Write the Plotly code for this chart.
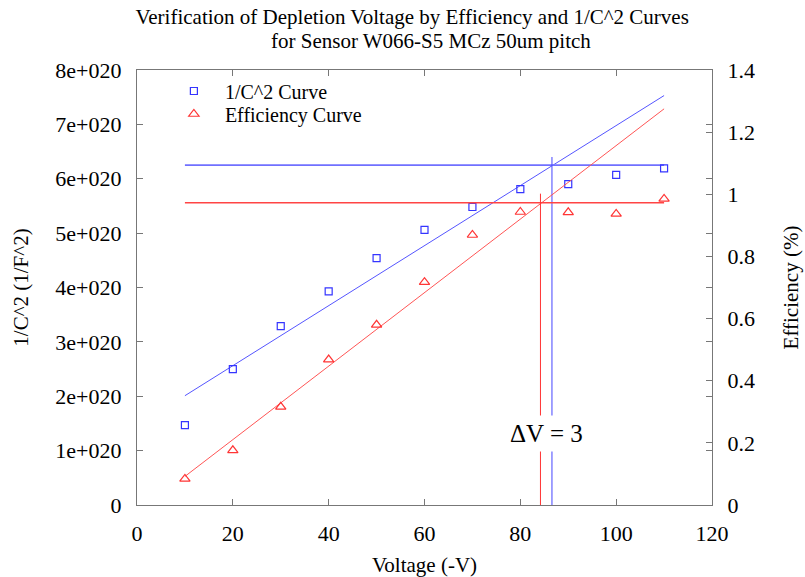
import plotly.graph_objects as go

# Measured data
voltage = [10, 20, 30, 40, 50, 60, 70, 80, 90, 100, 110]
inv_c2 = [1.47e20, 2.50e20, 3.29e20, 3.93e20, 4.54e20, 5.06e20,
          5.48e20, 5.81e20, 5.90e20, 6.07e20, 6.19e20]
efficiency = [0.084, 0.176, 0.316, 0.468, 0.580, 0.717,
              0.869, 0.943, 0.942, 0.937, 0.985]

# Linear fits of the rising part (endpoints of the fitted range)
fit_v = [10, 110]
fit_c2 = [2.01e20, 7.53e20]
fit_eff = [0.092, 1.275]

# Plateau levels
plateau_v = [10, 110]
plateau_c2 = [6.25e20, 6.25e20]
plateau_eff = [0.973, 0.973]

# Depletion voltages (fit x plateau intersections)
vdep_c2 = 86.6
vdep_eff = 84.2
vdep_c2_top = 6.40e20
vdep_eff_top = 1.002

left_ticks = [0, 1e20, 2e20, 3e20, 4e20, 5e20, 6e20, 7e20, 8e20]
left_labels = ["0", "1e+020", "2e+020", "3e+020", "4e+020",
               "5e+020", "6e+020", "7e+020", "8e+020"]
right_ticks = [0, 0.2, 0.4, 0.6, 0.8, 1.0, 1.2, 1.4]
right_labels = ["0", "0.2", "0.4", "0.6", "0.8", "1", "1.2", "1.4"]

BLUE = "#3535ff"
RED = "#ff3535"
FONT = "Liberation Serif, Times New Roman, serif"

# plot-area geometry (pixels) used to place the title lines and legend rows
TOP, BOTTOM = 70, 505
def paper_y(px):
    return (BOTTOM - px) / (BOTTOM - TOP)

fig = go.Figure()

# Fit lines
fig.add_trace(go.Scatter(x=fit_v, y=fit_c2, mode="lines",
                         line=dict(color="#5555ff", width=1), showlegend=False))
fig.add_trace(go.Scatter(x=fit_v, y=fit_eff, mode="lines", yaxis="y2",
                         line=dict(color="#ff5555", width=1), showlegend=False))

# Plateau lines
fig.add_trace(go.Scatter(x=plateau_v, y=plateau_c2, mode="lines",
                         line=dict(color="#7070ff", width=1.6), showlegend=False))
fig.add_trace(go.Scatter(x=plateau_v, y=plateau_eff, mode="lines", yaxis="y2",
                         line=dict(color="#ff4444", width=1.4), showlegend=False))

# Vertical depletion markers
fig.add_trace(go.Scatter(x=[vdep_c2, vdep_c2], y=[0, vdep_c2_top], mode="lines",
                         line=dict(color="#4444ff", width=1), showlegend=False))
fig.add_trace(go.Scatter(x=[vdep_eff, vdep_eff], y=[0, vdep_eff_top], mode="lines",
                         yaxis="y2", line=dict(color="#ff3333", width=1),
                         showlegend=False))

# Data points (each in its own legend box for tight row spacing)
fig.add_trace(go.Scatter(x=voltage, y=inv_c2, mode="markers", name="1/C^2 Curve",
                         legend="legend",
                         marker=dict(symbol="square-open", size=7, color=BLUE,
                                     line=dict(width=1.2, color=BLUE))))
fig.add_trace(go.Scatter(x=voltage, y=efficiency, mode="markers", yaxis="y2",
                         name="Efficiency Curve", legend="legend2",
                         marker=dict(symbol="triangle-up-open", size=9, color=RED,
                                     line=dict(width=1.2, color=RED))))

fig.add_annotation(x=(vdep_c2 + vdep_eff) / 2, y=1.65e20, xref="x", yref="y",
                   yanchor="top", text="\u0394V = 3", showarrow=False,
                   bgcolor="white",
                   font=dict(family=FONT, size=25, color="black"),
                   borderpad=4)

# second title line
fig.add_annotation(x=0.512, xref="paper", y=paper_y(41), yref="paper",
                   xanchor="center", yanchor="middle", showarrow=False,
                   text="for Sensor W066-S5 MCz 50um pitch",
                   font=dict(family=FONT, size=21, color="black"))

axis_common = dict(
    showline=True, linecolor="#777777", linewidth=1.2,
    ticks="inside", ticklen=6, tickcolor="#777777", tickwidth=1,
    showgrid=False, zeroline=False, automargin=False,
    tickfont=dict(family=FONT, size=22, color="black"),
)

legend_common = dict(xanchor="left", yanchor="middle", bgcolor="rgba(0,0,0,0)",
                     itemwidth=52, font=dict(family=FONT, size=20, color="black"))

fig.update_layout(
    width=805, height=577,
    margin=dict(l=137, r=93, t=TOP, b=577 - BOTTOM, autoexpand=False),
    paper_bgcolor="white", plot_bgcolor="white",
    title=dict(text="Verification of Depletion Voltage by Efficiency and 1/C^2 Curves",
               x=0.512, xref="container", xanchor="center",
               y=1 - 17 / 577, yref="container", yanchor="middle",
               font=dict(family=FONT, size=21, color="black")),
    xaxis=dict(range=[0, 120], tickvals=[0, 20, 40, 60, 80, 100, 120],
               mirror="ticks", ticklabelstandoff=8,
               title=dict(text="Voltage (-V)", standoff=14,
                          font=dict(family=FONT, size=21, color="black")),
               **axis_common),
    yaxis=dict(range=[0, 8e20], tickvals=left_ticks, ticktext=left_labels,
               mirror="ticks", ticklabelstandoff=10,
               title=dict(text="1/C^2 (1/F^2)", standoff=20,
                          font=dict(family=FONT, size=21, color="black")),
               **axis_common),
    yaxis2=dict(range=[0, 1.4], tickvals=right_ticks, ticktext=right_labels,
                overlaying="y", side="right", ticklabelstandoff=10,
                title=dict(text="Efficiency (%)", standoff=29,
                           font=dict(family=FONT, size=21, color="black")),
                **axis_common),
    legend=dict(x=0.045, y=paper_y(91), **legend_common),
    legend2=dict(x=0.045, y=paper_y(114), **legend_common),
)

fig.write_html("out.html")
